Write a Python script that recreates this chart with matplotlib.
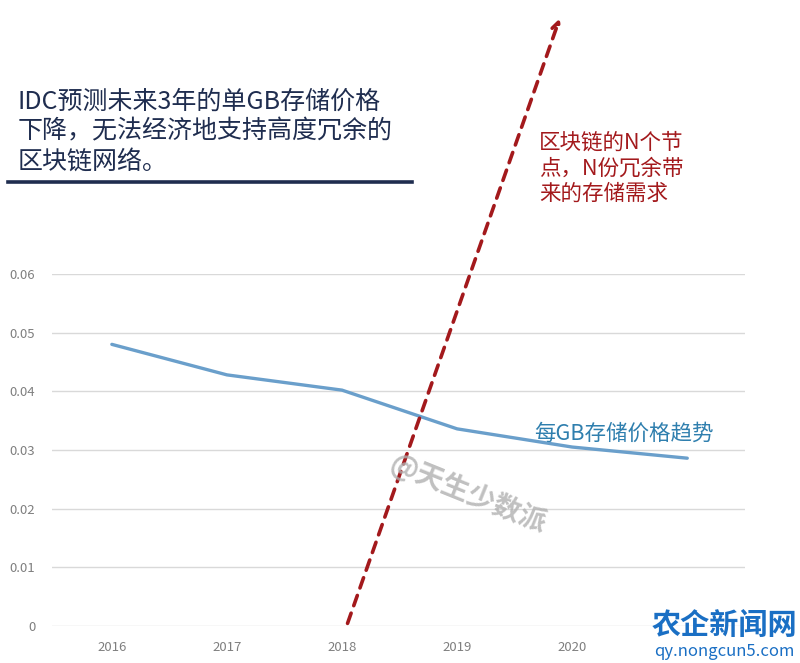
import matplotlib.pyplot as plt

plt.rcParams['font.family'] = ['Noto Sans CJK SC', 'DejaVu Sans']

years = [2016, 2017, 2018, 2019, 2020, 2021]
price = [0.0480, 0.0428, 0.0402, 0.0336, 0.0305, 0.0286]
# 2021 label is hidden behind the site logo in the original
year_labels = ["2016", "2017", "2018", "2019", "2020", ""]
yticks = [0, 0.01, 0.02, 0.03, 0.04, 0.05, 0.06]
ytick_labels = ["0", "0.01", "0.02", "0.03", "0.04", "0.05", "0.06"]

title = "IDC预测未来3年的单GB存储价格\n下降，无法经济地支持高度冗余的\n区块链网络。"
demand_note = "区块链的N个节\n点，N份冗余带\n来的存储需求"
line_label = "每GB存储价格趋势"

fig = plt.figure(figsize=(8, 6.63), dpi=100)
ax = fig.add_axes([0.065, 0.0558, 0.866, 0.531])

ax.plot(years, price, color="#6a9fcb", linewidth=2.4, solid_capstyle="round")
ax.set_xlim(2015.48, 2021.5)
ax.set_ylim(0, 0.06)
ax.set_xticks(years)
ax.set_xticklabels(year_labels)
ax.set_yticks(yticks)
ax.set_yticklabels(ytick_labels)
ax.tick_params(length=0, colors="#7f7f7f", labelsize=9.5)
ax.tick_params(axis="x", pad=11)
ax.tick_params(axis="y", pad=12)
ax.grid(axis="y", color="#d9d9d9", linewidth=1)
for s in ax.spines.values():
    s.set_visible(False)
ax.set_axisbelow(True)

# rising storage-demand arrow
ax.annotate("", xy=(2019.9, 0.104), xytext=(2018.04, 0.0),
            xycoords="data", textcoords="data", annotation_clip=False,
            arrowprops=dict(arrowstyle="->", color="#a3191c", lw=2.6,
                            linestyle=(0, (3, 2.2)), mutation_scale=14))

ax.text(2019.67, 0.0318, line_label, color="#2f7fae", fontsize=15.5)

# watermark
ax.text(2018.38, 0.016, "@天生少数派", color="#b0b0b0", fontsize=20,
        rotation=-22, alpha=0.8, fontweight="bold")

fig.text(0.0225, 0.866, title, color="#1f2d4f", fontsize=18,
         va="top", linespacing=1.2)
fig.add_artist(plt.Line2D([0.01, 0.515], [0.725, 0.725], color="#1f2d4f",
                          linewidth=2.6))
fig.text(0.674, 0.801, demand_note, color="#a3191c", fontsize=15.5,
         va="top", linespacing=1.2)

# site logo
fig.text(0.906, 0.058, "农企新闻网", color="#1a6fc4", fontsize=21,
         fontweight="bold", ha="center", va="center")
fig.text(0.906, 0.018, "qy.nongcun5.com", color="#1a6fc4", fontsize=12,
         ha="center", va="center")

fig.savefig("out.png", dpi=100)
